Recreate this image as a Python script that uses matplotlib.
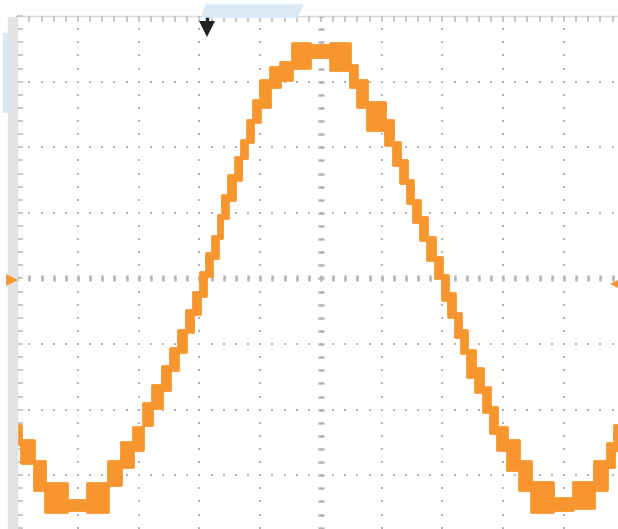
import numpy as np
import matplotlib
matplotlib.use("Agg")
import matplotlib.pyplot as plt
from matplotlib.patches import Polygon, Rectangle

# ===============================
# trace data (screen divisions)
# each bin: [t_edges[i], t_edges[i+1]) covers v_bot..v_top
# ===============================
t_edges = [-5.00, -4.94, -4.72, -4.54, -4.18, -3.85, -3.51, -3.29, -3.09, -2.93,
           -2.78, -2.62, -2.49, -2.35, -2.22, -2.11, -1.99, -1.89, -1.79, -1.70,
           -1.63, -1.53, -1.42, -1.32, -1.22, -1.12, -1.00, -0.84, -0.67, -0.48,
           -0.18, 0.15, 0.48, 0.59, 0.76, 1.05, 1.19, 1.30, 1.42, 1.51,
           1.63, 1.74, 1.88, 1.99, 2.09, 2.21, 2.30, 2.40, 2.53, 2.67,
           2.78, 2.90, 3.06, 3.26, 3.46, 3.82, 4.15, 4.49, 4.71, 4.82, 4.89]

v_top = [-2.23, -2.46, -2.78, -3.12, -3.38, -3.12, -2.78, -2.49, -2.26, -1.90,
         -1.62, -1.33, -1.06, -0.79, -0.48, -0.21, 0.10, 0.39, 0.65, 0.97,
         1.27, 1.58, 1.85, 2.11, 2.42, 2.72, 3.03, 3.22, 3.30, 3.59,
         3.56, 3.59, 3.25, 3.03, 2.69, 2.42, 2.08, 1.81, 1.50, 1.20,
         0.94, 0.63, 0.33, 0.05, -0.22, -0.53, -0.79, -1.09, -1.36, -1.65,
         -1.96, -2.26, -2.46, -2.78, -3.11, -3.35, -3.11, -2.78, -2.51, -2.23]

v_bot = [-2.53, -2.81, -3.22, -3.56, -3.53, -3.56, -3.15, -2.87, -2.61, -2.23,
         -1.97, -1.70, -1.39, -1.12, -0.82, -0.54, -0.27, 0.04, 0.31, 0.62,
         0.92, 1.20, 1.50, 1.84, 2.08, 2.39, 2.61, 2.92, 3.03, 3.21,
         3.38, 3.18, 2.92, 2.61, 2.26, 2.04, 1.73, 1.46, 1.15, 0.86,
         0.59, 0.28, 0.01, -0.33, -0.59, -0.89, -1.14, -1.50, -1.73, -2.04,
         -2.36, -2.61, -2.92, -3.22, -3.56, -3.53, -3.50, -3.22, -2.87, -2.61]

trig_pos = -1.88     # trigger position marker (div)
trig_level = -0.08   # trigger level marker (div)

TRACE = "#F7952E"
GRID = "#B2B2B2"

W, H = 618, 529
fig = plt.figure(figsize=(W / 100, H / 100), dpi=100)
fig.patch.set_facecolor("white")

# 座標: 左端 x=17px, 上端 y=16px
ax = fig.add_axes([17.25 / W, 0, 1 - 17.25 / W, 1 - 16.1 / H])
ax.set_xlim(-5, 4.89)
ax.set_ylim(-3.82, 4.0)
ax.axis("off")

# ---- grid dots ----
xs_fine = np.arange(-5, 5.01, 0.2)
ys_fine = np.arange(-4, 4.01, 0.2)
for gx in range(-4, 5):
    if gx == 0:
        continue
    ax.plot(np.full_like(ys_fine, gx), ys_fine, ls="none", marker="s",
            ms=1.8, mew=0, color=GRID)
for gy in range(-3, 4):
    if gy == 0:
        continue
    ax.plot(xs_fine, np.full_like(xs_fine, gy), ls="none", marker="s",
            ms=1.8, mew=0, color=GRID)

# center lines with small dashes
ax.plot(xs_fine, np.zeros_like(xs_fine), ls="none", marker="|",
        ms=5, mew=1.8, color=GRID)
ax.plot(np.zeros_like(ys_fine), ys_fine, ls="none", marker="_",
        ms=5, mew=1.8, color=GRID)

# top border with ticks
ax.axhline(4.0, color="#D8D8D8", lw=1.0, clip_on=False)
ax.plot(xs_fine, np.full_like(xs_fine, 3.96), ls="none", marker="|",
        ms=4, mew=1.2, color="#BDBDBD", clip_on=False)
# left border ticks
ax.plot(np.full_like(ys_fine, -4.96), ys_fine, ls="none", marker="_",
        ms=4, mew=1.2, color="#BDBDBD", clip_on=False)

# ---- trace ----
tt = np.array(t_edges)
top = np.append(v_top, v_top[-1])
bot = np.append(v_bot, v_bot[-1])
ax.fill_between(tt, bot, top, step="post", color=TRACE, lw=2.0,
                edgecolor=TRACE, zorder=5)

# ---- markers ----
ax.plot([trig_pos, trig_pos], [4.0, 3.84], color="#222222", lw=2.4,
        clip_on=False, zorder=6)
ax.plot(trig_pos, 3.80, marker="v", ms=11, color="#222222", mew=0,
        clip_on=False, zorder=6)

# left grey bar and light blue bits (figure pixels)
fig.patches.append(Rectangle((8 / W, 0), 9 / W, 1 - 17 / H,
                             transform=fig.transFigure, color="#E3E3E3",
                             zorder=0))
fig.patches.append(Rectangle((3 / W, 1 - 112 / H), 5 / W, 79 / H,
                             transform=fig.transFigure, color="#D9E9F5",
                             zorder=0))
fig.patches.append(Polygon([(202 / W, 1 - 17 / H), (206 / W, 1 - 5 / H),
                            (303 / W, 1 - 5 / H), (297 / W, 1 - 17 / H)],
                           closed=True, transform=fig.transFigure,
                           color="#D9E9F5", zorder=0))

# trigger markers (orange triangles at the edges)
fig.lines.append(plt.Line2D([12 / W], [1 - 280 / H], marker=">", ms=8,
                            mew=0, color=TRACE, transform=fig.transFigure))
fig.lines.append(plt.Line2D([616 / W], [1 - 284 / H], marker="<", ms=8,
                            mew=0, color=TRACE, transform=fig.transFigure))

fig.savefig("out.png", dpi=100, facecolor="white")
